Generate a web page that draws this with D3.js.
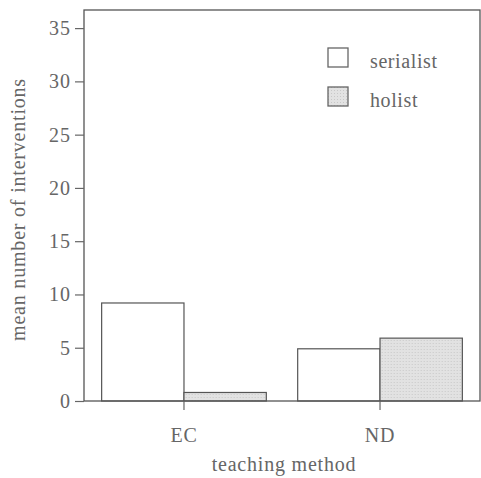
<!DOCTYPE html>
<html>
<head>
<meta charset="utf-8">
<script src="https://cdn.jsdelivr.net/npm/d3@7"></script>
<style>
  body { margin: 0; background: #fff; }
  text { font-family: "Liberation Serif", "DejaVu Serif", serif; fill: #666; }
</style>
</head>
<body>
<div id="chart"></div>
<script>
// data
var methods = ["EC", "ND"];
var groups = ["serialist", "holist"];
var serialist = [9.2, 4.9];
var holist = [0.8, 5.9];
var yTicks = [0, 5, 10, 15, 20, 25, 30, 35];

var W = 481, H = 478;
var margin = { top: 10, right: 1, bottom: 77, left: 84 };
var width = W - margin.left - margin.right;
var height = H - margin.top - margin.bottom;

var svg = d3.select("#chart").append("svg")
    .attr("width", W)
    .attr("height", H)
    .append("g")
    .attr("transform", `translate(${margin.left}, ${margin.top})`);

// stipple for holist bars
var defs = svg.append("defs");
var pat = defs.append("pattern")
    .attr("id", "stip")
    .attr("width", 3).attr("height", 3)
    .attr("patternUnits", "userSpaceOnUse");
pat.append("rect").attr("width", 3).attr("height", 3).attr("fill", "#e2e2e2");
pat.append("rect").attr("width", 1).attr("height", 1).attr("fill", "#c8c8c8");

var rows = methods.map((m, i) => ({ method: m, serialist: serialist[i], holist: holist[i] }));

var x0 = d3.scaleBand()
    .domain(methods)
    .range([0, width])
    .paddingInner(0.16)
    .paddingOuter(0.09);
var x1 = d3.scaleBand()
    .domain(groups)
    .range([0, x0.bandwidth()]);
var y = d3.scaleLinear()
    .domain([0, 36.7])
    .range([height, 0]);

var fill = { serialist: "#fff", holist: "url(#stip)" };

// bars
svg.selectAll(".grp")
    .data(rows)
    .enter().append("g")
    .attr("transform", d => `translate(${x0(d.method)}, 0)`)
    .selectAll("rect")
    .data(d => groups.map(g => ({ key: g, value: d[g] })))
    .enter().append("rect")
    .attr("x", d => x1(d.key))
    .attr("y", d => y(d.value))
    .attr("width", x1.bandwidth())
    .attr("height", d => height - y(d.value))
    .attr("fill", d => fill[d.key])
    .attr("stroke", "#555")
    .attr("stroke-width", 1.2);

// frame
svg.append("rect")
    .attr("width", width).attr("height", height)
    .attr("fill", "none")
    .attr("stroke", "#555")
    .attr("stroke-width", 1.3);

// y axis
var yAxis = svg.append("g")
    .call(d3.axisLeft(y).tickValues(yTicks).tickSize(9).tickPadding(4));
yAxis.select(".domain").remove();
yAxis.selectAll("line").attr("stroke", "#666").attr("stroke-width", 1.2);
yAxis.selectAll("text").style("font-size", "20px").attr("fill", "#777")
    .style("letter-spacing", "1px")
    .style("font-family", "Liberation Serif, serif");

// x axis
var xAxis = svg.append("g")
    .attr("transform", `translate(0, ${height})`)
    .call(d3.axisBottom(x0).tickSize(9).tickPadding(18));
xAxis.select(".domain").remove();
xAxis.selectAll("line").attr("stroke", "#666").attr("stroke-width", 1.2);
xAxis.selectAll("text").style("font-size", "20px").attr("fill", "#666")
    .style("letter-spacing", "0.8px")
    .style("font-family", "Liberation Serif, serif");

// axis labels
svg.append("text")
    .attr("x", width / 2 + 2)
    .attr("y", height + 70)
    .attr("text-anchor", "middle")
    .style("font-size", "20px")
    .style("letter-spacing", "0.8px")
    .text("teaching method");

svg.append("text")
    .attr("transform", `translate(${-59}, ${height / 2 + 4}) rotate(-90)`)
    .attr("text-anchor", "middle")
    .style("font-size", "20px")
    .style("letter-spacing", "0.8px")
    .text("mean number of interventions");

// legend
var legend = svg.append("g")
    .attr("transform", "translate(244, 38)");
legend.selectAll("rect")
    .data(groups)
    .enter().append("rect")
    .attr("x", 0)
    .attr("y", (d, i) => i * 39)
    .attr("width", 20).attr("height", 19)
    .attr("fill", d => fill[d])
    .attr("stroke", "#666")
    .attr("stroke-width", 1.3);
legend.selectAll("text")
    .data(groups)
    .enter().append("text")
    .attr("x", 42)
    .attr("y", (d, i) => i * 39 + 20)
    .style("font-size", "20px")
    .style("letter-spacing", "0.6px")
    .text(d => d);
</script>
</body>
</html>
